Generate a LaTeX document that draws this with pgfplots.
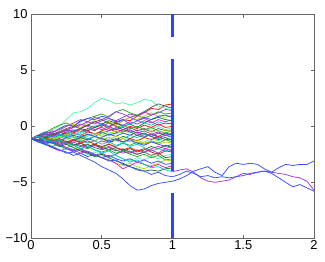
\documentclass[border=0pt]{standalone}
\usepackage{fontspec}
\setmainfont{Liberation Sans}
\usepackage{pgfplots}
\usepackage{pgfplotstable}
\pgfplotsset{compat=1.18}

\definecolor{mred}{RGB}{240,20,20}
\definecolor{maqua}{RGB}{80,250,170}
\definecolor{mgray}{RGB}{90,90,90}
\definecolor{mgreen}{RGB}{40,170,30}
\definecolor{mylw}{RGB}{190,210,0}
\definecolor{mblue}{RGB}{50,80,255}
\definecolor{mmag}{RGB}{210,40,220}
\definecolor{mdkgreen}{RGB}{20,120,40}
\definecolor{mcyan}{RGB}{0,200,220}
\definecolor{mpurp}{RGB}{150,60,230}
\definecolor{mline}{RGB}{40,70,255}

\pgfplotscreateplotcyclelist{walks}{mred\\maqua\\mgray\\mgreen\\mylw\\mblue\\mmag\\mdkgreen\\mcyan\\mpurp\\}

% one row per path, sampled every 0.05 on [0,1]
\pgfplotstableread{
name c0 c1 c2 c3 c4 c5 c6 c7 c8 c9 c10 c11 c12 c13 c14 c15 c16 c17 c18 c19 c20
x 0 0.05 0.1 0.15 0.2 0.25 0.3 0.35 0.4 0.45 0.5 0.55 0.6 0.65 0.7 0.75 0.8 0.85 0.9 0.95 1
p1 -1.1 -0.9 -1.0 -0.7 -0.8 -0.5 -0.6 -0.3 -0.4 -0.1 0.1 -0.1 0.3 0.6 0.5 0.9 1.2 1.6 1.5 1.9 2.0
p2 -1.1 -0.8 -0.5 -0.3 0.0 0.6 1.2 1.3 1.6 2.1 2.5 2.3 2.0 2.1 1.9 2.1 2.4 2.3 1.8 1.6 1.5
p3 -1.1 -1.3 -1.0 -1.2 -0.9 -0.6 -0.8 -0.5 -0.2 -0.4 0.0 0.3 0.1 0.5 0.8 1.0 1.3 1.7 2.0 1.8 1.6
p4 -1.1 -0.9 -0.6 -0.2 0.1 0.3 0.0 0.4 0.7 0.9 1.1 0.8 1.3 1.5 1.2 1.0 0.7 1.0 1.3 1.1 1.2
p5 -1.1 -1.0 -0.7 -0.9 -0.4 0.0 0.2 -0.1 0.3 0.5 0.2 0.4 0.1 0.5 0.8 0.6 0.9 1.2 0.9 0.8 1.0
p6 -1.1 -0.8 -0.5 -0.6 -0.2 0.1 0.0 0.5 0.7 0.6 0.9 0.7 0.4 0.6 0.2 0.5 0.8 0.6 0.9 1.0 0.8
p7 -1.1 -1.2 -0.9 -0.6 -0.8 -0.5 -0.3 -0.6 -0.4 -0.1 -0.3 0.0 0.3 0.1 0.4 0.2 0.5 0.3 0.6 0.4 0.6
p8 -1.1 -0.9 -1.1 -0.8 -0.5 -0.7 -0.4 -0.2 0.1 -0.1 0.2 0.5 0.3 0.0 0.2 -0.1 0.3 0.6 0.8 0.6 0.5
p9 -1.1 -1.3 -1.0 -0.8 -1.0 -0.7 -0.4 -0.6 -0.3 0.0 0.2 -0.1 -0.3 0.0 0.2 0.5 0.3 0.1 0.4 0.2 0.3
p10 -1.1 -0.8 -0.9 -0.5 -0.3 0.0 0.3 0.6 0.4 0.8 0.6 0.9 1.3 1.1 0.8 0.5 0.7 0.4 0.1 0.3 0.2
p11 -1.1 -1.0 -1.2 -0.9 -0.7 -0.9 -0.6 -0.8 -0.5 -0.7 -0.4 -0.2 -0.5 -0.3 0.0 -0.2 0.1 -0.1 0.2 -0.1 0.0
p12 -1.1 -1.3 -1.5 -1.2 -1.4 -1.1 -0.9 -1.2 -0.9 -0.6 -0.8 -0.5 -0.7 -0.4 -0.6 -0.3 -0.5 -0.2 0.0 -0.3 -0.1
p13 -1.1 -0.9 -0.6 -0.8 -0.6 -0.3 -0.5 -0.2 -0.4 -0.7 -0.5 -0.8 -0.6 -0.3 -0.1 -0.4 -0.2 -0.5 -0.2 -0.4 -0.3
p14 -1.1 -1.2 -0.9 -1.1 -0.8 -1.0 -1.2 -0.9 -0.7 -0.9 -0.6 -0.4 -0.1 0.1 -0.2 0.0 -0.3 -0.1 -0.4 -0.6 -0.4
p15 -1.1 -0.9 -1.1 -1.3 -1.0 -0.7 -0.9 -1.1 -0.8 -0.6 -0.9 -0.7 -0.4 -0.6 -0.8 -0.5 -0.7 -0.4 -0.6 -0.3 -0.5
p16 -1.1 -1.3 -1.6 -1.4 -1.7 -1.5 -1.2 -1.4 -1.1 -1.3 -1.0 -0.7 -0.9 -0.6 -0.8 -0.5 -0.7 -0.9 -0.6 -0.8 -0.6
p17 -1.1 -0.9 -0.7 -0.4 -0.6 -0.3 -0.1 0.2 0.0 -0.3 -0.1 -0.4 -0.2 -0.5 -0.3 -0.6 -0.4 -0.7 -0.5 -0.8 -0.7
p18 -1.1 -1.3 -1.1 -1.4 -1.2 -1.5 -1.3 -1.0 -1.2 -0.9 -1.1 -1.4 -1.2 -0.9 -1.1 -0.8 -1.0 -0.7 -0.9 -0.6 -0.8
p19 -1.1 -1.0 -0.8 -1.0 -0.7 -0.9 -0.6 -0.8 -1.1 -0.9 -1.2 -1.0 -1.3 -1.1 -0.8 -1.0 -0.7 -0.9 -1.1 -0.8 -0.9
p20 -1.1 -0.9 -0.7 -0.9 -0.6 -0.3 -0.5 -0.2 0.1 0.4 0.2 0.0 -0.3 -0.1 -0.4 -0.6 -0.9 -0.7 -1.0 -0.8 -1.0
p21 -1.1 -1.3 -1.1 -1.4 -1.6 -1.4 -1.7 -1.5 -1.8 -1.6 -1.3 -1.5 -1.2 -1.4 -1.1 -1.3 -1.0 -1.2 -0.9 -1.2 -1.1
p22 -1.1 -1.2 -1.4 -1.2 -0.9 -1.1 -0.8 -0.5 -0.7 -0.9 -1.2 -1.0 -1.3 -1.5 -1.3 -1.6 -1.4 -1.1 -1.3 -1.0 -1.2
p23 -1.1 -0.8 -1.0 -0.7 -0.5 -0.2 0.0 -0.2 0.1 0.4 0.6 0.3 0.0 -0.3 -0.5 -0.8 -0.6 -0.9 -1.2 -1.0 -1.3
p24 -1.1 -1.3 -1.5 -1.8 -1.6 -1.9 -2.1 -1.8 -2.0 -1.7 -1.9 -1.6 -1.8 -1.5 -1.7 -1.4 -1.6 -1.3 -1.5 -1.2 -1.4
p25 -1.1 -0.9 -1.2 -1.0 -1.3 -1.1 -1.4 -1.2 -1.5 -1.3 -1.0 -1.2 -0.9 -1.1 -1.4 -1.2 -1.5 -1.3 -1.6 -1.4 -1.5
p26 -1.1 -1.4 -1.2 -1.5 -1.3 -1.0 -0.8 -1.0 -0.7 -0.9 -1.1 -1.3 -1.1 -1.4 -1.2 -1.5 -1.7 -1.4 -1.6 -1.8 -1.6
p27 -1.1 -1.3 -1.6 -1.9 -2.2 -2.0 -2.3 -2.1 -2.4 -2.6 -2.4 -2.7 -2.5 -2.2 -2.4 -2.1 -2.3 -2.0 -1.8 -2.0 -1.8
p28 -1.1 -1.0 -1.2 -1.4 -1.2 -1.5 -1.7 -1.5 -1.8 -1.6 -1.9 -2.1 -1.9 -2.2 -2.0 -2.3 -2.1 -1.8 -2.0 -1.7 -1.9
p29 -1.1 -0.9 -1.1 -1.3 -1.1 -0.8 -1.0 -1.3 -1.5 -1.3 -1.6 -1.4 -1.7 -1.5 -1.8 -1.6 -1.9 -2.2 -2.0 -2.2 -2.0
p30 -1.1 -1.3 -1.2 -1.5 -1.3 -1.6 -1.4 -1.7 -1.9 -1.7 -2.0 -1.8 -2.1 -2.4 -2.2 -2.5 -2.3 -2.1 -2.4 -2.0 -2.2
p31 -1.1 -1.2 -1.0 -1.3 -1.1 -1.4 -1.2 -1.5 -1.3 -1.6 -1.8 -1.6 -1.9 -2.1 -1.9 -2.2 -2.0 -2.3 -2.5 -2.2 -2.3
p32 -1.1 -1.4 -1.7 -1.5 -1.8 -2.1 -1.9 -2.2 -2.5 -2.3 -2.6 -2.8 -2.6 -2.9 -3.1 -2.8 -3.0 -2.7 -2.9 -2.6 -2.5
p33 -1.1 -1.2 -1.4 -1.2 -1.5 -1.3 -1.6 -1.8 -1.6 -1.9 -2.1 -1.9 -2.2 -2.0 -2.3 -2.5 -2.3 -2.6 -2.4 -2.8 -2.7
p34 -1.1 -1.3 -1.1 -1.4 -1.6 -1.9 -1.7 -2.0 -1.8 -2.1 -2.3 -2.1 -2.4 -2.2 -2.5 -2.7 -2.5 -2.8 -2.6 -3.0 -2.9
p35 -1.1 -1.3 -1.5 -1.8 -1.6 -1.9 -2.2 -2.0 -2.3 -2.5 -2.8 -3.0 -3.3 -3.5 -3.3 -3.6 -3.8 -3.5 -3.3 -3.0 -3.1
p36 -1.1 -1.4 -1.6 -1.9 -2.1 -2.3 -2.6 -2.4 -2.7 -2.5 -2.8 -2.6 -2.9 -3.1 -2.9 -3.2 -3.0 -3.3 -3.1 -3.4 -3.3
p37 -1.1 -1.2 -1.5 -1.3 -1.6 -1.9 -2.1 -2.4 -2.2 -2.5 -2.8 -3.0 -3.3 -3.8 -3.5 -3.2 -3.4 -3.6 -3.4 -3.7 -3.5
p38 -1.1 -1.3 -1.2 -1.5 -1.8 -1.6 -1.9 -2.2 -2.4 -2.7 -2.5 -2.8 -3.1 -3.3 -3.6 -3.8 -4.0 -3.9 -4.0 -3.8 -3.7
p39 -1.1 -0.9 -1.2 -1.4 -1.2 -1.5 -1.7 -2.0 -1.8 -2.1 -2.4 -2.2 -2.6 -2.9 -3.2 -3.0 -3.4 -3.7 -3.6 -3.9 -4.05
p40 -1.1 -1.0 -0.7 -0.9 -0.6 -0.4 -0.1 0.1 0.4 0.2 0.5 0.7 0.5 0.8 1.1 0.9 1.3 1.0 1.2 1.5 1.4
p41 -1.1 -1.3 -1.6 -1.8 -2.1 -2.4 -2.3 -2.6 -2.9 -3.2 -3.6 -3.9 -4.2 -4.7 -5.3 -5.7 -5.6 -5.3 -5.1 -5.0 -4.9
p42 -1.1 -1.2 -1.5 -1.4 -1.7 -2.0 -2.2 -2.0 -2.3 -2.6 -2.8 -3.1 -3.0 -3.4 -3.6 -3.9 -4.0 -4.3 -4.1 -4.4 -4.5
}\rawpaths
\pgfplotstabletranspose[colnames from=name]{\paths}{\rawpaths}

\begin{document}
\begin{tikzpicture}
\begin{axis}[
  scale only axis,
  width=283bp, height=224bp,
  xmin=0, xmax=2, ymin=-10, ymax=10,
  xtick={0,0.5,1,1.5,2}, xticklabels={0,0.5,1,1.5,2},
  ytick={-10,-5,0,5,10}, yticklabels={−10,−5,0,5,10},
  tick align=inside,
  major tick length=3.5bp,
  axis line style={black!60, line width=0.6pt},
  tick style={black!60, line width=0.6pt},
  ticklabel style={font=\fontsize{13}{15}\selectfont},
  xticklabel style={yshift=1bp},
  cycle list name=walks,
  every axis plot/.append style={line width=0.75pt, mark=none},
]
\pgfplotsinvokeforeach{1,...,40}{
  \addplot table[x=x, y=p#1] {\paths};
}
\addplot[mblue] table[x=x, y=p41] {\paths};
\addplot[mblue] table[x=x, y=p42] {\paths};

% the three paths that run on past t = 1
\addplot[mpurp!80!mmag] coordinates {
  (1,-4.05) (1.05,-3.9) (1.1,-3.8) (1.15,-4.1) (1.2,-4.6) (1.25,-4.9) (1.3,-5.0)
  (1.35,-4.9) (1.4,-4.8) (1.45,-4.5) (1.5,-4.2) (1.55,-4.3) (1.6,-4.1) (1.65,-4.0)
  (1.7,-4.1) (1.75,-4.2) (1.8,-4.3) (1.85,-4.5) (1.9,-4.6) (1.95,-4.9) (2,-5.7)
};
\addplot[mblue] coordinates {
  (1,-4.9) (1.05,-4.7) (1.1,-4.4) (1.15,-4.0) (1.2,-3.8) (1.25,-3.6) (1.3,-4.1)
  (1.35,-4.4) (1.4,-3.6) (1.45,-3.3) (1.5,-3.4) (1.55,-3.3) (1.6,-3.4) (1.65,-3.8)
  (1.7,-4.1) (1.75,-3.7) (1.8,-3.4) (1.85,-3.5) (1.9,-3.4) (1.95,-3.4) (2,-3.1)
};
\addplot[mblue] coordinates {
  (1,-4.5) (1.05,-4.3) (1.1,-4.0) (1.15,-4.2) (1.2,-4.5) (1.25,-4.4) (1.3,-4.6)
  (1.35,-4.5) (1.4,-4.6) (1.45,-4.5) (1.5,-4.4) (1.55,-4.2) (1.6,-4.1) (1.65,-4.0)
  (1.7,-4.2) (1.75,-4.6) (1.8,-5.0) (1.85,-5.4) (1.9,-5.2) (1.95,-5.5) (2,-5.8)
};

% thick broken line at t = 1
\addplot[mline, line width=3bp, unbounded coords=jump] coordinates {
  (1,10) (1,8) (1,nan) (1,6) (1,-4) (1,nan) (1,-6) (1,-10)
};
\end{axis}
\pgfresetboundingbox
\useasboundingbox (-31bp,-23.7bp) rectangle (294bp,238.3bp);
\end{tikzpicture}
\end{document}
